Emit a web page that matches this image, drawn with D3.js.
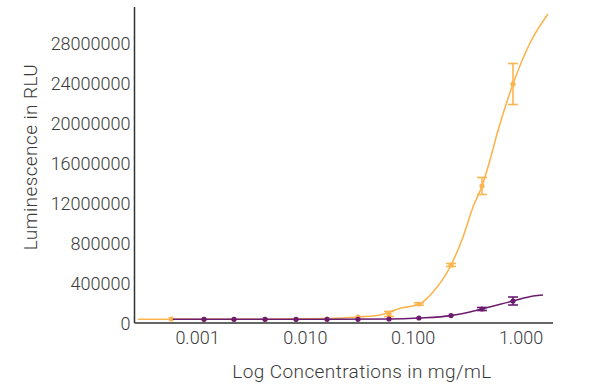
<!DOCTYPE html>
<html>
<head>
<meta charset="utf-8">
<script src="https://cdn.jsdelivr.net/npm/d3@7"></script>
<style>
  body { margin: 0; background: #fff; }
  text { font-family: Roboto, "Open Sans", sans-serif; font-weight: 300; fill: #3a3a3a; }
</style>
</head>
<body>
<div id="chart"></div>
<script>
// values (RLU)
const yTickValues = [0, 4000000, 8000000, 12000000, 16000000, 20000000, 24000000, 28000000]
const yTickLabels = ["0", "400000", "800000", "12000000", "16000000", "20000000", "24000000", "28000000"]
const xTickValues = [0.001, 0.01, 0.1, 1]
const xTickLabels = ["0.001", "0.010", "0.100", "1.000"]

// orange series: measured points
const orangeConc = [0.00057, 0.00115, 0.00218, 0.00423, 0.0082, 0.0159, 0.0308, 0.0597, 0.113, 0.2245, 0.435, 0.843]
const orangeMean = [500000, 470000, 470000, 470000, 470000, 500000, 700000, 1000000, 2000000, 5900000, 13800000, 24000000]
const orangeErr  = [50000, 30000, 30000, 30000, 30000, 50000, 100000, 250000, 120000, 150000, 850000, 2050000]
// orange fitted curve, read at several points
const orangeFitConc = [0.00028, 0.00057, 0.00307, 0.0169, 0.0308, 0.0493, 0.0755, 0.113, 0.153, 0.2245, 0.29, 0.359, 0.435, 0.516, 0.599, 0.843, 1.212, 1.78]
const orangeFitVal  = [470000, 480000, 480000, 550000, 700000, 900000, 1570000, 1970000, 3200000, 5900000, 8700000, 11700000, 13800000, 16400000, 19000000, 24000000, 28100000, 31000000]

// purple series: measured points
const purpleConc = [0.00115, 0.00218, 0.00423, 0.0082, 0.0159, 0.0308, 0.0597, 0.113, 0.2245, 0.435, 0.843]
const purpleMean = [470000, 470000, 470000, 470000, 470000, 470000, 500000, 600000, 840000, 1500000, 2300000]
const purpleErr  = [30000, 30000, 30000, 30000, 30000, 30000, 30000, 50000, 60000, 150000, 400000]
// purple fitted curve
const purpleFitConc = [0.00059, 0.00307, 0.0169, 0.0597, 0.113, 0.2245, 0.435, 0.843, 1.3, 1.6]
const purpleFitVal  = [470000, 470000, 470000, 500000, 600000, 840000, 1500000, 2300000, 2800000, 2900000]

const orange = "#fbb54f"
const purple = "#6b1c6f"

const width = 600
const height = 384

const svg = d3.select("#chart")
  .append("svg")
    .attr("width", width)
    .attr("height", height)

// scales
const x = d3.scaleLog()
  .domain([0.001, 1])
  .range([197.5, 521])

const y = d3.scaleLinear()
  .domain([0, 28000000])
  .range([324, 44])

const axisX = 134.5
const axisY = 323

// y axis
svg.append("line")
  .attr("x1", axisX).attr("x2", axisX)
  .attr("y1", 7).attr("y2", axisY)
  .attr("stroke", "#333").attr("stroke-width", 1.5)

// x axis
svg.append("line")
  .attr("x1", axisX).attr("x2", 553)
  .attr("y1", axisY).attr("y2", axisY)
  .attr("stroke", "#333").attr("stroke-width", 1.5)

svg.selectAll(".ylab")
  .data(yTickValues)
  .join("text")
    .attr("class", "ylab")
    .attr("x", 130.5)
    .attr("y", d => y(d))
    .attr("dy", "0.36em")
    .attr("text-anchor", "end")
    .attr("font-size", 18)
    .text((d, i) => yTickLabels[i])

svg.selectAll(".xlab")
  .data(xTickValues)
  .join("text")
    .attr("class", "xlab")
    .attr("x", d => x(d))
    .attr("y", 337.5)
    .attr("dy", "0.36em")
    .attr("text-anchor", "middle")
    .attr("font-size", 18)
    .text((d, i) => xTickLabels[i])

svg.append("text")
  .attr("x", 362)
  .attr("y", 371)
  .attr("dy", "0.36em")
  .attr("text-anchor", "middle")
  .attr("font-size", 19)
  .attr("letter-spacing", 0.4)
  .text("Log Concentrations in mg/mL")

svg.append("text")
  .attr("transform", "translate(30,157) rotate(-90)")
  .attr("dy", "0.36em")
  .attr("text-anchor", "middle")
  .attr("font-size", 19)
  .attr("letter-spacing", 0.4)
  .text("Luminescence in RLU")

const line = d3.line()
  .x(d => x(d[0]))
  .y(d => y(d[1]))
  .curve(d3.curveMonotoneX)

function drawSeries(conc, mean, err, fitConc, fitVal, color) {
  const g = svg.append("g")

  g.append("path")
    .datum(d3.zip(fitConc, fitVal))
    .attr("d", line)
    .attr("fill", "none")
    .attr("stroke", color)
    .attr("stroke-width", 1.6)

  const pts = d3.zip(conc, mean, err)

  // error bars with caps
  const bars = g.selectAll(".err")
    .data(pts.filter(d => y(d[1] - d[2]) - y(d[1] + d[2]) > 2))
    .join("g")
  bars.append("line")
    .attr("x1", d => x(d[0])).attr("x2", d => x(d[0]))
    .attr("y1", d => y(d[1] - d[2])).attr("y2", d => y(d[1] + d[2]))
    .attr("stroke", color).attr("stroke-width", 1.6)
  bars.selectAll(".cap")
    .data(d => [[d[0], d[1] - d[2]], [d[0], d[1] + d[2]]])
    .join("line")
      .attr("x1", d => x(d[0]) - 5).attr("x2", d => x(d[0]) + 5)
      .attr("y1", d => y(d[1])).attr("y2", d => y(d[1]))
      .attr("stroke", color).attr("stroke-width", 1.6)

  g.selectAll("circle")
    .data(pts)
    .join("circle")
      .attr("cx", d => x(d[0]))
      .attr("cy", d => y(d[1]))
      .attr("r", 2.6)
      .attr("fill", color)
}

drawSeries(orangeConc, orangeMean, orangeErr, orangeFitConc, orangeFitVal, orange)
drawSeries(purpleConc, purpleMean, purpleErr, purpleFitConc, purpleFitVal, purple)
</script>
</body>
</html>
